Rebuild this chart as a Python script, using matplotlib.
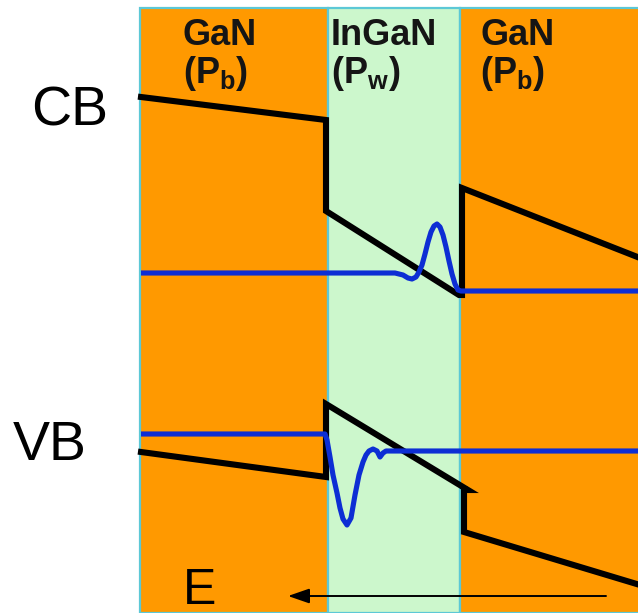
import matplotlib
matplotlib.use("Agg")
import matplotlib.pyplot as plt
from matplotlib.patches import Rectangle

plt.rcParams["font.family"] = ["Liberation Sans", "DejaVu Sans"]
plt.rcParams["mathtext.fontset"] = "custom"
plt.rcParams["mathtext.rm"] = "Liberation Sans"
plt.rcParams["mathtext.bf"] = "Liberation Sans:bold"

# Layer stack: GaN barrier / InGaN well / GaN barrier (position along growth axis)
layer_edges = [140, 328, 460, 640]
layer_names = ["GaN", "InGaN", "GaN"]
layer_pol = [r"$\mathbf{(P_b)}$", r"$\mathbf{(P_w)}$", r"$\mathbf{(P_b)}$"]
layer_colors = ["#FF9900", "#CCF7CC", "#FF9900"]

# Conduction band edge (position, energy; energy axis points down)
cb_x = [141, 326, 326, 459, 462, 462, 640]
cb_e = [97, 120, 211, 295, 295, 188, 258]

# Valence band edge
vb_x = [141, 326, 326, 468, 464, 464, 640]
vb_e = [452, 477, 404, 490, 490, 532, 585]

# Electron wavefunction (offset on the conduction band side)
psi_e_x = [141, 395, 403, 408, 412, 416, 419, 422, 425, 428, 431, 434, 437,
           440, 443, 446, 449, 452, 455, 458, 461, 640]
psi_e_e = [273, 273, 275, 278, 279, 277, 272, 265, 254, 242, 232, 226, 224,
           227, 235, 247, 261, 274, 284, 290, 291, 291]

# Hole wavefunction (offset on the valence band side)
psi_h_x = [141, 325, 327, 330, 333, 337, 340, 343, 347, 351, 355, 359, 363,
           366, 369, 373, 377, 380, 383, 386, 640]
psi_h_e = [434, 434, 440, 457, 475, 493, 508, 519, 525, 518, 495, 475, 462,
           455, 451, 449, 451, 457, 453, 451, 451]

fig = plt.figure(figsize=(6.38, 6.13), dpi=100)
ax = fig.add_axes([0, 0, 1, 1])
ax.set_xlim(0, 638)
ax.set_ylim(613, 0)
ax.axis("off")

top = 8
for i, name in enumerate(layer_names):
    x0, x1 = layer_edges[i], layer_edges[i + 1]
    ax.add_patch(Rectangle((x0, top), x1 - x0, 613 - top,
                           facecolor=layer_colors[i], edgecolor="#5CC8D6",
                           linewidth=1.6, zorder=1))
    tx = x0 + (43 if i == 0 else 3 if i == 1 else 20)
    ax.text(tx, 45, name, fontsize=26, fontweight="bold", color="#151515",
            ha="left", va="baseline", zorder=5)
    ax.text(tx, 83, layer_pol[i], fontsize=26, color="#151515",
            ha="left", va="baseline", zorder=5)

ax.plot(cb_x, cb_e, color="black", lw=4.4, solid_joinstyle="miter", zorder=3)
ax.plot(vb_x, vb_e, color="black", lw=4.4, solid_joinstyle="miter", zorder=3)
ax.plot(psi_e_x, psi_e_e, color="#0D2ED4", lw=3.7, solid_capstyle="butt",
        solid_joinstyle="round", zorder=4)
ax.plot(psi_h_x, psi_h_e, color="#0D2ED4", lw=3.7, solid_capstyle="butt",
        solid_joinstyle="round", zorder=4)

ax.text(31, 125, "CB", fontsize=40, color="black", ha="left", va="baseline")
ax.text(13, 460, "VB", fontsize=40, color="black", ha="left", va="baseline")
ax.text(183, 604, "E", fontsize=36, color="black", ha="left", va="baseline",
        zorder=5)

ax.annotate("", xy=(288, 596), xytext=(606, 596),
            arrowprops=dict(arrowstyle="-|>,head_length=1.3,head_width=0.45",
                            color="black", lw=1.4, shrinkA=0, shrinkB=0),
            zorder=5)

fig.savefig("out.png", dpi=100)
